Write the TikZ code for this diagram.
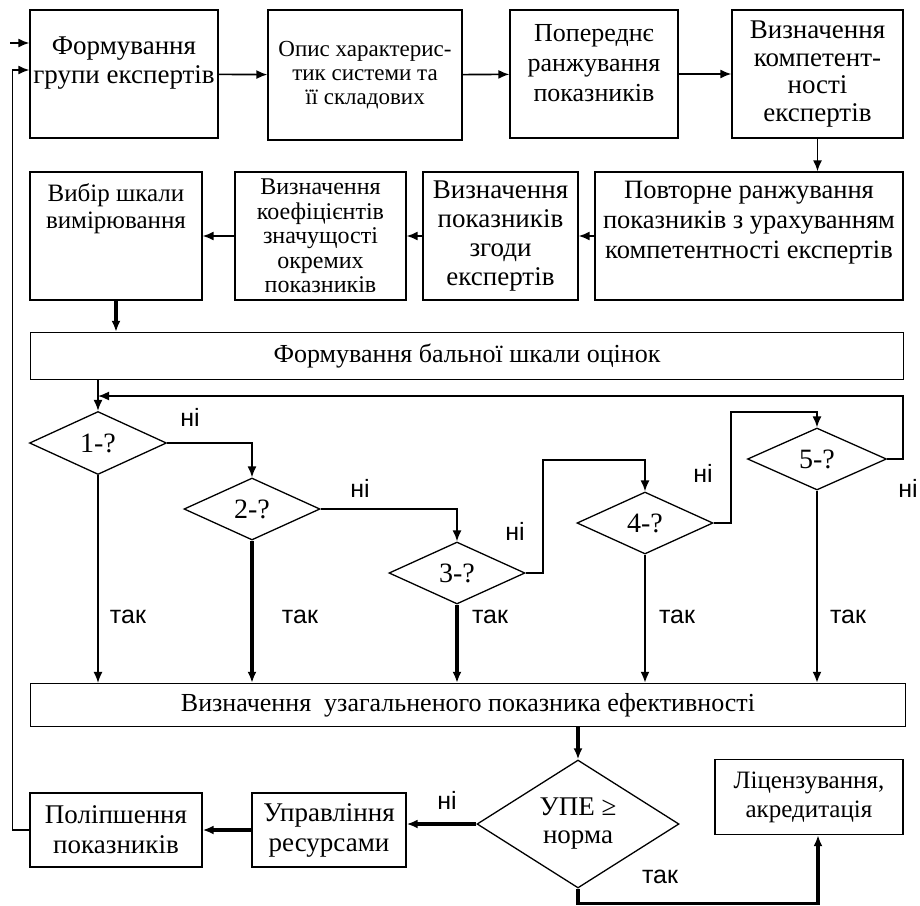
\documentclass[tikz,border=0pt]{standalone}
\usepackage{fontspec}
\setmainfont{Liberation Serif}
\newfontfamily\labelfont{Liberation Sans}
\usepackage{tikz}
\usetikzlibrary{arrows.meta,shapes.geometric,positioning}

\begin{document}
\begin{tikzpicture}[x=1pt,y=-1pt]
    \tikzset{box/.style = {shape=rectangle,draw,line width=1.3pt,align=center,inner sep=0pt,font=\fontsize{26}{29}\selectfont}}
    \tikzset{boxtext/.style = {anchor=center,align=center,inner sep=0pt,font=\fontsize{26}{29}\selectfont}}
    \tikzset{cond/.style = {shape=diamond,draw,line width=1.3pt,aspect=2.2,inner sep=0pt,align=center,font=\fontsize{28}{30}\selectfont}}
    \tikzset{edge/.style = {-{Latex[length=11pt,width=9pt]},line width=1.6pt}}
    \tikzset{heavy/.style = {edge,line width=3.2pt}}
    \tikzset{answer/.style = {font=\labelfont\fontsize{25}{27}\selectfont}}
    \useasboundingbox (0,0) rectangle (920,905);
    % top row
    \node[box,minimum width=188pt,minimum height=128pt,
      label={[boxtext,yshift=11pt,font=\fontsize{27}{29}\selectfont]center:{Формування\\групи експертів}}] (form) at (124,74) {};
    \node[box,minimum width=194pt,minimum height=130pt,font=\fontsize{23}{24}\selectfont] (opys) at (365,75) {Опис характерис-\\тик системи та\\її складових};
    \node[box,minimum width=168pt,minimum height=128pt,
      label={[boxtext,yshift=11pt,font=\fontsize{26}{30}\selectfont]center:{Попереднє\\ранжування\\показників}}] (poper) at (594,74) {};
    \node[box,minimum width=171pt,minimum height=128pt,font=\fontsize{27}{27.5}\selectfont] (komp) at (817.5,74) {Визначення\\компетент-\\ності\\експертів};
    % second row
    \node[box,minimum width=308pt,minimum height=128pt,
      label={[boxtext,yshift=13pt,font=\fontsize{26.5}{30}\selectfont]center:{Повторне ранжування\\показників з урахуванням\\компетентності експертів}}] (povt) at (749,236) {};
    \node[box,minimum width=155pt,minimum height=128pt,font=\fontsize{27}{29}\selectfont] (zgody) at (500.5,236) {Визначення\\показників\\згоди\\експертів};
    \node[box,minimum width=171pt,minimum height=128pt,font=\fontsize{24}{24.5}\selectfont] (koef) at (320.5,236) {Визначення\\коефіцієнтів\\значущості\\окремих\\показників};
    \node[box,minimum width=172pt,minimum height=128pt,
      label={[boxtext,yshift=27pt,font=\fontsize{25}{27}\selectfont]center:{Вибір шкали\\вимірювання}}] (vybir) at (116,236) {};
    \node[box,minimum width=873pt,minimum height=47pt] (bal) at (467,356) {Формування бальної шкали оцінок};
    % conditions
    \node[cond,minimum width=137pt,minimum height=63pt] (d1) at (98,443) {1-?};
    \node[cond,minimum width=136pt,minimum height=62pt] (d2) at (252,509) {2-?};
    \node[cond,minimum width=136pt,minimum height=62pt] (d3) at (457,573) {3-?};
    \node[cond,minimum width=136pt,minimum height=62pt] (d4) at (645,523) {4-?};
    \node[cond,minimum width=139pt,minimum height=62pt] (d5) at (817,459) {5-?};
    \coordinate (r3) at (543,460);
    \coordinate (r4) at (731,412);
    \coordinate (r5) at (903,396);
    % bottom part
    \node[box,minimum width=875pt,minimum height=43pt] (uzag) at (468,705) {Визначення\ \ узагальненого показника ефективності};
    \node[cond,minimum width=202pt,minimum height=128pt,font=\fontsize{27}{28}\selectfont] (upe) at (578,824) {УПЕ ≥\\норма};
    \node[box,minimum width=188pt,minimum height=75pt,font=\fontsize{25}{29}\selectfont] (lic) at (809,797) {Ліцензування,\\акредитація};
    \node[box,minimum width=154pt,minimum height=74pt,font=\fontsize{27}{30}\selectfont] (upr) at (329,830) {Управління\\ресурсами};
    \node[box,minimum width=172pt,minimum height=74pt,font=\fontsize{27}{30}\selectfont] (pol) at (116,830) {Поліпшення\\показників};
    \coordinate (start) at (10,43);
    %edges
    \draw[edge] (start) -- (start -| form.west);
    \draw[edge] (form) -- (opys);
    \draw[edge] (opys) -- (poper);
    \draw[edge] (poper) -- (komp);
    \draw[edge] (komp.south) -- (komp.south |- povt.north);
    \draw[edge] (povt) -- (zgody);
    \draw[edge] (zgody) -- (koef);
    \draw[edge] (koef) -- (vybir);
    \draw[heavy] (vybir.south) -- (vybir.south |- bal.north);
    \draw[edge] (bal.south -| d1.north) -- (d1.north);
    
    \draw[edge] (d1.east) -| (d2.north);
    \draw[edge] (d2.east) -| (d3.north);
    \draw[edge] (d3.east) -| (r3) -| (d4.north);
    \draw[edge] (d4.east) -| (r4) -| (d5.north);
    \draw[edge] (d5.east) -| (r5) -- (d1.north |- r5);
    
    \draw[edge,line width=1.2pt] (d1.south) -- (d1.south |- uzag.north);
    \draw[heavy] (d2.south) -- (d2.south |- uzag.north);
    \draw[heavy] (d3.south) -- (d3.south |- uzag.north);
    \draw[edge,line width=2pt] (d4.south) -- (d4.south |- uzag.north);
    \draw[edge,line width=2pt] (d5.south) -- (d5.south |- uzag.north);
    
    \draw[heavy] (uzag.south -| upe.north) -- (upe.north);
    \draw[heavy] (upe.west) -- (upe.west -| upr.east);
    \draw[heavy] (upr.west) -- (pol.east);
    \draw[edge] (pol.west) -- ++(-17,0) |- ([yshift=4pt]form.west);
    \draw[heavy] (upe.south) -- ++(0,15) -| ([xshift=9pt]lic.south);
    % answers
    \node[answer] (n1) at (190,417) {ні};
    \node[answer] (n2) at (360,488) {ні};
    \node[answer] (n3) at (515,531) {ні};
    \node[answer] (n4) at (703,473) {ні};
    \node[answer] (n5) at (908,488) {ні};
    \node[answer] (n6) at (447,800) {ні};
    \node[answer] (t1) at (128,617) {так};
    \node[answer] (t2) at (300,617) {так};
    \node[answer] (t3) at (490,617) {так};
    \node[answer] (t4) at (677,617) {так};
    \node[answer] (t5) at (848,617) {так};
    \node[answer] (t6) at (660,877) {так};
\end{tikzpicture}
\end{document}
